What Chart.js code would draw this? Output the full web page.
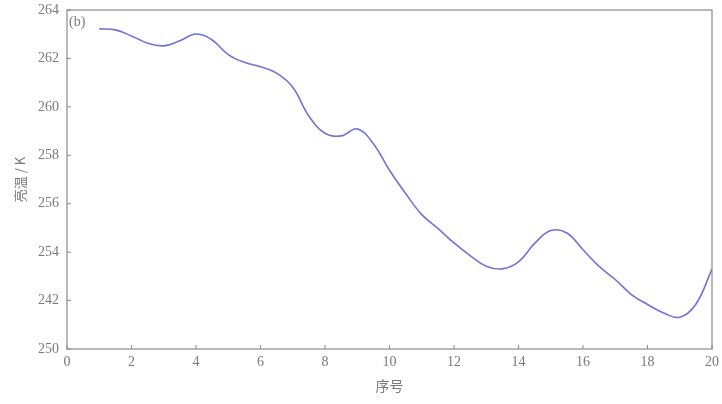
<!DOCTYPE html>
<html>
<head>
<meta charset="utf-8">
<script src="https://cdn.jsdelivr.net/npm/chart.js@4.4.0/dist/chart.umd.min.js"></script>
<style>
html,body{margin:0;padding:0;background:#fff;}
#wrap{width:722px;height:404px;position:relative;}
</style>
</head>
<body>
<div id="wrap"><canvas id="c" width="722" height="404"></canvas></div>
<script>
// Data
const xValues = [1,1.5,2,2.5,3,3.5,4,4.5,5,5.5,6,6.5,7,7.5,8,8.5,9,9.5,10,10.5,11,11.5,12,12.5,13,13.5,14,14.5,15,15.5,16,16.5,17,17.5,18,18.5,19,19.5,20];
const brightnessTemp = [263.22,263.18,262.93,262.63,262.52,262.73,263.01,262.76,262.16,261.84,261.66,261.39,260.81,259.62,258.91,258.80,259.09,258.48,257.38,256.42,255.55,254.98,254.38,253.86,253.42,253.31,253.60,254.36,254.89,254.79,254.10,253.41,252.87,252.25,251.84,251.49,251.31,251.85,253.30];
const xTickValues = [0,2,4,6,8,10,12,14,16,18,20];
const yTickValues = [250,252,254,256,258,260,262,264];
const yTickLabels = ["250","242","254","256","258","260","262","264"];
const panelLabel = "(b)";
const xTitle = "序号";
const yTitle = "亮温 / K";

const axisColor = '#8a8a8a';
const textColor = '#7a7a7a';
const serif = "'Liberation Serif','DejaVu Serif',serif";

const framePlugin = {
  id: 'frame',
  afterDatasetsDraw(chart) {
    const {ctx, chartArea: a, scales} = chart;
    ctx.save();
    ctx.strokeStyle = axisColor;
    ctx.lineWidth = 1.2;
    ctx.strokeRect(a.left, a.top, a.right - a.left, a.bottom - a.top);
    ctx.lineWidth = 1;
    // inward tick marks
    xTickValues.forEach(v => {
      const x = scales.x.getPixelForValue(v);
      ctx.beginPath(); ctx.moveTo(x, a.bottom); ctx.lineTo(x, a.bottom - 4); ctx.stroke();
    });
    yTickValues.forEach(v => {
      const y = scales.y.getPixelForValue(v);
      ctx.beginPath(); ctx.moveTo(a.left, y); ctx.lineTo(a.left + 4, y); ctx.stroke();
    });
    ctx.fillStyle = textColor;
    ctx.font = "14px " + serif;
    ctx.textAlign = 'left';
    ctx.textBaseline = 'middle';
    ctx.fillText(panelLabel, a.left + 2, a.top + 12);
    ctx.restore();
  }
};

new Chart(document.getElementById('c'), {
  type: 'line',
  data: {
    datasets: [{
      data: xValues.map((x, i) => ({x: x, y: brightnessTemp[i]})),
      borderColor: '#7272d8',
      borderWidth: 1.6,
      pointRadius: 0,
      fill: false,
      tension: 0.4
    }]
  },
  options: {
    responsive: false,
    animation: false,
    devicePixelRatio: 1,
    layout: {padding: {left: 8, right: 10, top: 10, bottom: 0}},
    plugins: {legend: {display: false}, tooltip: {enabled: false}},
    scales: {
      x: {
        type: 'linear', min: 0, max: 20,
        afterBuildTicks(s) { s.ticks = xTickValues.map(v => ({value: v})); },
        afterFit(s) { s.height = 55; s.paddingLeft = 0; s.paddingRight = 0; },
        grid: {display: false, drawTicks: false},
        border: {display: false},
        ticks: {color: textColor, font: {family: serif, size: 14}, padding: 5, maxRotation: 0},
        title: {display: true, text: xTitle, color: textColor, font: {family: "'Noto Sans CJK SC'", size: 14}, padding: {top: 4, bottom: 10}}
      },
      y: {
        type: 'linear', min: 250, max: 264,
        afterBuildTicks(s) { s.ticks = yTickValues.map(v => ({value: v})); },
        afterFit(s) { s.width = 59; s.paddingTop = 0; s.paddingBottom = 0; },
        grid: {display: false, drawTicks: false},
        border: {display: false},
        ticks: {
          color: textColor, font: {family: serif, size: 14}, padding: 8,
          callback(v) { const i = yTickValues.indexOf(v); return i >= 0 ? yTickLabels[i] : ''; }
        },
        title: {display: true, text: yTitle, color: textColor, font: {family: "'Noto Sans CJK SC'", size: 13}, padding: {bottom: 2}}
      }
    }
  },
  plugins: [framePlugin]
});
</script>
</body>
</html>
